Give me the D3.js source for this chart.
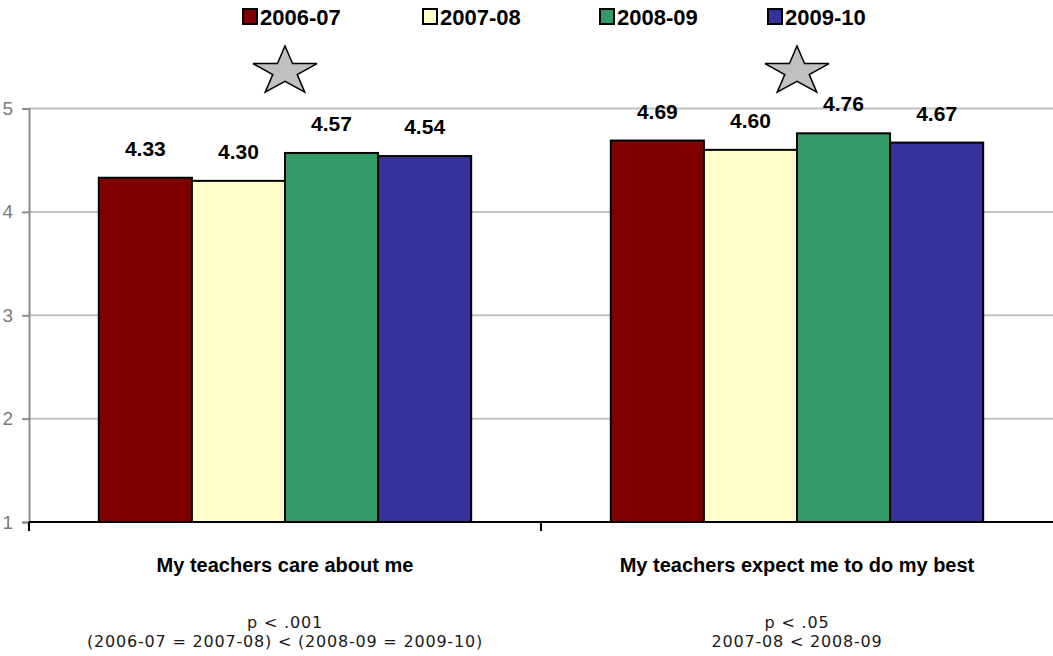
<!DOCTYPE html>
<html>
<head>
<meta charset="utf-8">
<script src="https://cdn.jsdelivr.net/npm/d3@7"></script>
<style>
  html, body { margin: 0; padding: 0; background: #fff; }
  svg { display: block; }
</style>
</head>
<body>
<svg id="chart" width="1053" height="656"></svg>
<script>
// Survey items and school years
const categories = ["My teachers care about me", "My teachers expect me to do my best"];
const years = ["2006-07", "2007-08", "2008-09", "2009-10"];
const colors = ["#800000", "#FFFFCC", "#339966", "#333399"];

// Mean ratings per year, one array per item
const careValues = [4.33, 4.30, 4.57, 4.54];
const expectValues = [4.69, 4.60, 4.76, 4.67];
const seriesByCategory = [careValues, expectValues];

const yTicks = [1, 2, 3, 4, 5];

// Significance notes under each item
const notes = [
  ["p < .001", "(2006-07 = 2007-08) < (2008-09 = 2009-10)"],
  ["p < .05", "2007-08 < 2008-09"]
];
const flagged = [true, true];

(function draw() {
  const svg = d3.select("#chart");
  const plotLeft = 29, plotRight = 1053, plotTop = 108.5, plotBottom = 522;

  const x0 = d3.scaleBand().domain(categories).range([plotLeft, plotRight]).paddingInner(0).paddingOuter(0);
  const x1 = d3.scaleBand().domain(years).range([0, x0.bandwidth()]).paddingInner(0).paddingOuter(0.75);
  const y = d3.scaleLinear().domain([1, 5]).range([plotBottom, plotTop]);
  const color = d3.scaleOrdinal().domain(years).range(colors);

  const boldFont = "'Liberation Sans', Arial, sans-serif";
  const thinFont = "'DejaVu Sans', 'Liberation Sans', sans-serif";

  // Horizontal gridlines
  svg.append("g")
    .selectAll("line")
    .data(yTicks.filter(d => d > 1))
    .join("line")
    .attr("x1", plotLeft).attr("x2", plotRight)
    .attr("y1", d => y(d)).attr("y2", d => y(d))
    .attr("stroke", "#c0c0c0").attr("stroke-width", 2);

  // Value axis
  const yAxis = svg.append("g")
    .attr("transform", `translate(${plotLeft},0)`)
    .call(d3.axisLeft(y).tickValues(yTicks).tickSize(7).tickPadding(9).tickFormat(d3.format("d")));
  yAxis.select(".domain").attr("stroke", "#8c8c8c").attr("stroke-width", 2);
  yAxis.selectAll(".tick line").attr("stroke", "#8c8c8c").attr("stroke-width", 2);
  yAxis.selectAll(".tick text")
    .attr("fill", "#7a7a7a")
    .style("font-family", "'Liberation Sans', Arial, sans-serif")
    .style("font-size", "19px");

  // Bars
  const groups = svg.append("g")
    .selectAll("g")
    .data(categories)
    .join("g")
    .attr("transform", d => `translate(${x0(d)},0)`);

  const rows = (c, i) => seriesByCategory[i].map((v, j) => ({ year: years[j], value: v }));

  groups.selectAll("rect")
    .data(rows)
    .join("rect")
    .attr("x", d => x1(d.year))
    .attr("width", x1.bandwidth())
    .attr("y", d => y(d.value))
    .attr("height", d => y(1) - y(d.value))
    .attr("fill", d => color(d.year))
    .attr("stroke", "#000")
    .attr("stroke-width", 2);

  groups.selectAll("text.val")
    .data(rows)
    .join("text")
    .attr("class", "val")
    .attr("x", d => x1(d.year) + x1.bandwidth() / 2)
    .attr("y", d => y(d.value) - 22)
    .attr("text-anchor", "middle")
    .style("font-family", boldFont)
    .style("font-weight", "bold")
    .style("font-size", "21px")
    .attr("fill", "#000")
    .text(d => d3.format(".2f")(d.value));

  // Category axis
  svg.append("line")
    .attr("x1", plotLeft).attr("x2", plotRight)
    .attr("y1", plotBottom).attr("y2", plotBottom)
    .attr("stroke", "#000").attr("stroke-width", 2);
  svg.append("g")
    .selectAll("line")
    .data([plotLeft, plotLeft + x0.bandwidth()])
    .join("line")
    .attr("x1", d => d).attr("x2", d => d)
    .attr("y1", plotBottom).attr("y2", plotBottom + 9)
    .attr("stroke", "#000").attr("stroke-width", 2);

  svg.append("g")
    .selectAll("text")
    .data(categories)
    .join("text")
    .attr("x", d => x0(d) + x0.bandwidth() / 2)
    .attr("y", 572)
    .attr("text-anchor", "middle")
    .style("font-family", boldFont)
    .style("font-weight", "bold")
    .style("font-size", "20px")
    .text(d => d);

  // Significance notes
  categories.forEach((c, i) => {
    const cx = x0(c) + x0.bandwidth() / 2;
    const t = svg.append("text")
      .attr("text-anchor", "middle")
      .style("font-family", thinFont)
      .style("font-size", "16px")
      .style("letter-spacing", "0.8px")
      .attr("fill", "#1a1a1a");
    notes[i].forEach((line, k) => {
      t.append("tspan")
        .attr("x", cx)
        .attr("y", 628 + k * 19)
        .text(line);
    });
  });

  // Star markers for significant items
  const starPath = (() => {
    const pts = [];
    const R = 25.5, r = R * 0.382;
    for (let k = 0; k < 10; k++) {
      const rad = k % 2 === 0 ? R : r;
      const a = -Math.PI / 2 + k * Math.PI / 5;
      pts.push([rad * Math.cos(a) * 1.32, rad * Math.sin(a)]);
    }
    return "M" + pts.map(p => p.join(",")).join("L") + "Z";
  })();
  svg.append("g")
    .selectAll("path")
    .data(categories.filter((c, i) => flagged[i]))
    .join("path")
    .attr("d", starPath)
    .attr("transform", d => `translate(${x0(d) + x0.bandwidth() / 2},71.5)`)
    .attr("fill", "#c0c0c0")
    .attr("stroke", "#000")
    .attr("stroke-width", 1.5)
    .attr("stroke-linejoin", "miter");

  // Legend
  const legendX = [243, 423, 600, 768];
  const legend = svg.append("g")
    .selectAll("g")
    .data(years)
    .join("g")
    .attr("transform", (d, i) => `translate(${legendX[i]},9)`);
  legend.append("rect")
    .attr("width", 14).attr("height", 15)
    .attr("fill", d => color(d))
    .attr("stroke", "#000").attr("stroke-width", 2);
  legend.append("text")
    .attr("x", 17).attr("y", 16)
    .style("font-family", boldFont)
    .style("font-weight", "bold")
    .style("font-size", "22px")
    .text(d => d);
})();
</script>
</body>
</html>
